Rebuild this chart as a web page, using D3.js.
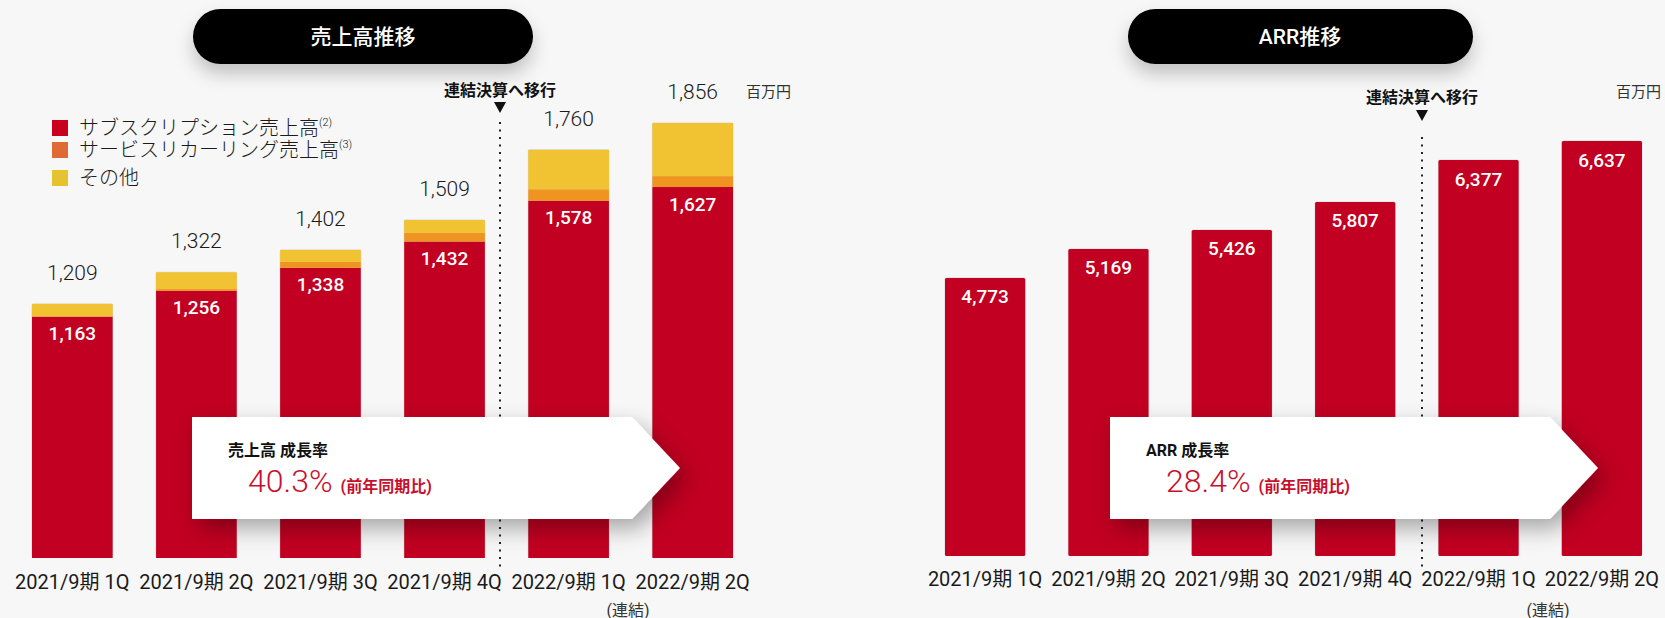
<!DOCTYPE html>
<html>
<head>
<meta charset="utf-8">
<script src="https://cdn.jsdelivr.net/npm/d3@7"></script>
<style>
  body { margin: 0; background: #f7f7f7; }
  svg { display: block; }
  text { font-family: Roboto, "Noto Sans CJK JP", sans-serif; }
</style>
</head>
<body>
<svg id="chart" width="1665" height="618"></svg>
<script>
// data
const periods = ["2021/9期 1Q", "2021/9期 2Q", "2021/9期 3Q", "2021/9期 4Q", "2022/9期 1Q", "2022/9期 2Q"];
const subscription = [1163, 1256, 1338, 1432, 1578, 1627];
const recurring = [2, 6, 21, 31, 41, 39];
const other = [44, 60, 43, 46, 141, 190];
const totals = [1209, 1322, 1402, 1509, 1760, 1856];
const arr = [4773, 5169, 5426, 5807, 6377, 6637];
const legendNames = ["サブスクリプション売上高", "サービスリカーリング売上高", "その他"];
const legendNotes = ["(2)", "(3)", ""];

const RED = "#c20021", ORANGE = "#ef9420", YELLOW = "#f1c232";
const legendColors = ["#c8001e", "#e06a35", "#e5c22f"];
const fmt = d3.format(",");

const svg = d3.select("#chart");
const defs = svg.append("defs");
defs.append("filter").attr("id", "pillShadow")
  .attr("x", "-20%").attr("y", "-50%").attr("width", "140%").attr("height", "250%")
  .append("feDropShadow").attr("dx", 0).attr("dy", 10).attr("stdDeviation", 9)
  .attr("flood-color", "#000").attr("flood-opacity", 0.22);
defs.append("filter").attr("id", "boxShadow")
  .attr("x", "-10%").attr("y", "-30%").attr("width", "130%").attr("height", "180%")
  .append("feDropShadow").attr("dx", 7).attr("dy", 10).attr("stdDeviation", 11)
  .attr("flood-color", "#000").attr("flood-opacity", 0.32);

function pill(cx, x0, x1, label) {
  const g = svg.append("g");
  g.append("rect").attr("x", x0).attr("y", 9).attr("width", x1 - x0).attr("height", 55)
    .attr("rx", 27.5).attr("fill", "#000").attr("filter", "url(#pillShadow)");
  g.append("text").attr("x", cx).attr("y", 37).attr("text-anchor", "middle")
    .attr("dominant-baseline", "central").attr("fill", "#fff")
    .attr("font-size", 21).attr("font-weight", 500).text(label);
}

function separator(xPos, textY, triY, lineY0, lineY1) {
  svg.append("text").attr("x", xPos).attr("y", textY).attr("text-anchor", "middle")
    .attr("dominant-baseline", "central").attr("font-size", 16).attr("font-weight", 700)
    .attr("fill", "#111").text("連結決算へ移行");
  svg.append("path").attr("d", `M${xPos - 6},${triY} L${xPos + 6},${triY} L${xPos},${triY + 11}Z`)
    .attr("fill", "#111");
  svg.append("line").attr("x1", xPos).attr("x2", xPos).attr("y1", lineY0).attr("y2", lineY1)
    .attr("stroke", "#222").attr("stroke-width", 2).attr("stroke-dasharray", "2,5.5");
}

function growthBox(x0, x1, tip, title, pct) {
  const top = 417, bot = 519, mid = (top + bot) / 2;
  svg.append("path").attr("d", `M${x0},${top} L${x1},${top} L${tip},${mid} L${x1},${bot} L${x0},${bot}Z`)
    .attr("fill", "#fff").attr("filter", "url(#boxShadow)");
  svg.append("text").attr("x", x0 + 36).attr("y", 450).attr("dominant-baseline", "central")
    .attr("font-size", 16).attr("font-weight", 700).attr("fill", "#111").text(title);
  const t = svg.append("text").attr("x", x0 + 56).attr("y", 492).attr("fill", "#c8102e");
  t.append("tspan").attr("font-size", 32).attr("font-weight", 300).text(pct);
  t.append("tspan").attr("dx", 8).attr("font-size", 16).attr("font-weight", 700).text("(前年同期比)");
}

function xAxisLabels(x, yPos) {
  svg.append("g").selectAll("text").data(periods).join("text")
    .attr("x", d => x(d) + x.bandwidth() / 2).attr("y", yPos)
    .attr("text-anchor", "middle").attr("dominant-baseline", "central")
    .attr("font-size", 20).attr("fill", "#1a1a1a").text(d => d);
}

// ---------- left: 売上高推移 ----------
const xL = d3.scaleBand().domain(periods).range([32, 733]).paddingInner(0.35).paddingOuter(0);
const yL = d3.scaleLinear().domain([300, d3.max(totals)]).range([558, 123]);

const stackRows = periods.map((p, i) => ({ period: p, sub: subscription[i], rec: recurring[i], oth: other[i] }));
const stack = d3.stack().keys(["sub", "rec", "oth"])(stackRows);
const stackColors = { sub: RED, rec: ORANGE, oth: YELLOW };

pill(363, 193, 533, "売上高推移");

const gL = svg.append("g");
gL.selectAll("rect.frame").data(periods).join("rect").attr("class", "frame")
  .attr("x", d => xL(d) - 0.5).attr("y", (d, i) => yL(totals[i]) - 0.5)
  .attr("width", xL.bandwidth() + 1).attr("height", (d, i) => yL.range()[0] - yL(totals[i]) + 0.5)
  .attr("rx", 2).attr("fill", "#d8d8d8");
stack.forEach(layer => {
  gL.append("g").attr("fill", stackColors[layer.key]).selectAll("rect").data(layer).join("rect")
    .attr("x", d => xL(d.data.period))
    .attr("y", d => yL(Math.max(d[1], yL.domain()[0])))
    .attr("width", xL.bandwidth())
    .attr("height", d => yL(Math.max(d[0], yL.domain()[0])) - yL(d[1]));
});

gL.selectAll("text.total").data(totals).join("text").attr("class", "total")
  .attr("x", (d, i) => xL(periods[i]) + xL.bandwidth() / 2).attr("y", d => yL(d) - 31)
  .attr("text-anchor", "middle").attr("dominant-baseline", "central")
  .attr("font-size", 21).attr("font-weight", 300).attr("fill", "#1a1a1a").text(d => fmt(d));
gL.selectAll("text.inner").data(subscription).join("text").attr("class", "inner")
  .attr("x", (d, i) => xL(periods[i]) + xL.bandwidth() / 2).attr("y", d => yL(d) + 17)
  .attr("text-anchor", "middle").attr("dominant-baseline", "central")
  .attr("font-size", 19).attr("font-weight", 500).attr("fill", "#fff").text(d => fmt(d));

// legend
const lg = svg.append("g").selectAll("g").data(legendNames).join("g")
  .attr("transform", (d, i) => `translate(52,${[128, 150, 178][i]})`);
lg.append("rect").attr("x", 0).attr("y", -8).attr("width", 16).attr("height", 16)
  .attr("fill", (d, i) => legendColors[i]);
const lt = lg.append("text").attr("x", 27).attr("y", 0).attr("dominant-baseline", "central")
  .attr("font-size", 20).attr("font-weight", 300).attr("fill", "#1a1a1a");
lt.append("tspan").text(d => d);
lt.append("tspan").attr("font-size", 11).attr("dy", -6).text((d, i) => legendNotes[i]);

svg.append("text").attr("x", 791).attr("y", 92).attr("text-anchor", "end")
  .attr("dominant-baseline", "central").attr("font-size", 15).attr("fill", "#333").text("百万円");

separator(500, 90, 102, 122, 568);
growthBox(192, 632, 680, "売上高 成長率", "40.3%");
xAxisLabels(xL, 582);
svg.append("text").attr("x", 628).attr("y", 610).attr("text-anchor", "middle")
  .attr("dominant-baseline", "central").attr("font-size", 16).attr("fill", "#333").text("(連結)");

// ---------- right: ARR推移 ----------
const xR = d3.scaleBand().domain(periods).range([945, 1642]).paddingInner(0.35).paddingOuter(0);
const yR = d3.scaleLinear().domain([990, d3.max(arr)]).range([556, 141]);

pill(1300, 1128, 1473, "ARR推移");

const gR = svg.append("g");
gR.selectAll("rect.frame").data(arr).join("rect").attr("class", "frame")
  .attr("x", (d, i) => xR(periods[i]) - 0.5).attr("y", d => yR(d) - 0.5)
  .attr("width", xR.bandwidth() + 1).attr("height", d => yR.range()[0] - yR(d) + 0.5)
  .attr("rx", 2).attr("fill", "#d8d8d8");
gR.selectAll("rect.bar").data(arr).join("rect").attr("class", "bar")
  .attr("x", (d, i) => xR(periods[i])).attr("y", d => yR(d))
  .attr("width", xR.bandwidth()).attr("height", d => yR.range()[0] - yR(d))
  .attr("rx", 1.5).attr("fill", RED);
gR.selectAll("text.inner").data(arr).join("text").attr("class", "inner")
  .attr("x", (d, i) => xR(periods[i]) + xR.bandwidth() / 2).attr("y", d => yR(d) + 19)
  .attr("text-anchor", "middle").attr("dominant-baseline", "central")
  .attr("font-size", 19).attr("font-weight", 500).attr("fill", "#fff").text(d => fmt(d));

svg.append("text").attr("x", 1661).attr("y", 92).attr("text-anchor", "end")
  .attr("dominant-baseline", "central").attr("font-size", 15).attr("fill", "#333").text("百万円");

separator(1422, 97, 110, 137, 568);
growthBox(1110, 1550, 1598, "ARR 成長率", "28.4%");
xAxisLabels(xR, 579);
svg.append("text").attr("x", 1548).attr("y", 610).attr("text-anchor", "middle")
  .attr("dominant-baseline", "central").attr("font-size", 16).attr("fill", "#333").text("(連結)");
</script>
</body>
</html>
